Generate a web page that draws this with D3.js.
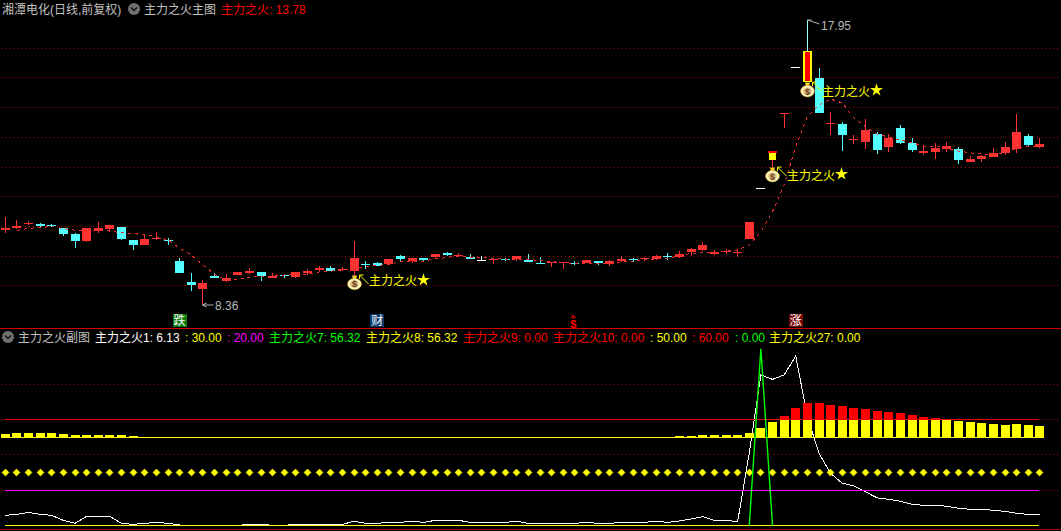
<!DOCTYPE html>
<html><head><meta charset="utf-8">
<script src="https://cdn.jsdelivr.net/npm/d3@7/dist/d3.min.js"></script>
<style>
html,body{margin:0;padding:0;background:#000;overflow:hidden}
svg{display:block;font-family:"Liberation Sans","Noto Sans CJK SC",sans-serif;font-size:12px}
</style></head><body><div id="chart"></div>
<script>
const opens=[10.88,10.95,11.09,11.09,11.05,10.95,10.75,10.51,10.85,10.92,10.985,10.55,10.38,10.58,10.55,9.84,9.13,8.90,9.32,9.17,9.37,9.44,9.47,9.27,9.37,9.30,9.44,9.54,9.60,9.54,
9.50,9.74,9.77,9.74,10.01,9.84,9.94,9.975,10.11,10.01,9.975,9.875,9.90,9.91,9.91,9.875,9.77,9.785,9.785,9.785,9.77,9.84,9.74,9.84,9.91,9.91,9.91,10.01,9.975,10.14,
10.21,10.08,10.14,10.13,10.58,12.29,13.24,14.81,16.36,15.86,16.00,14.47,14.45,13.91,13.84,14.11,13.68,14.32,13.81,13.47,13.51,13.61,13.61,13.17,13.27,13.34,13.47,13.61,14.05,13.68];
const closes=[10.96,11.02,11.13,11.02,11.04,10.75,10.52,10.95,10.95,11.05,10.58,10.38,10.58,10.61,10.52,9.44,9.03,9.10,9.27,9.27,9.47,9.50,9.335,9.335,9.335,9.47,9.50,9.60,9.50,9.57,
9.94,9.72,9.67,9.91,9.91,9.94,9.875,10.08,10.04,10.04,9.91,9.875,9.91,9.90,10.01,9.82,9.75,9.81,9.80,9.76,9.875,9.77,9.84,9.91,9.875,9.93,10.01,9.99,10.08,10.245,
10.38,10.14,10.19,10.14,11.15,12.29,13.51,14.83,16.36,16.90,14.82,14.50,14.08,13.95,14.25,13.58,13.98,13.81,13.58,13.54,13.64,13.71,13.24,13.27,13.37,13.47,13.68,14.18,13.74,13.78];
const highs=[11.31,11.22,11.20,11.12,11.09,10.95,10.77,10.95,11.14,11.05,10.985,10.55,10.72,10.82,10.61,9.94,9.44,9.20,9.44,9.40,9.47,9.60,9.47,9.44,9.40,9.47,9.57,9.67,9.67,9.64,
10.51,9.84,9.81,9.91,10.04,9.94,9.94,10.08,10.14,10.11,10.08,10.01,9.94,9.94,10.01,10.08,9.975,9.81,9.81,9.84,9.875,9.84,9.875,10.01,9.94,9.975,10.04,10.11,10.18,10.28,
10.48,10.21,10.24,10.24,11.15,12.29,13.51,14.83,16.36,17.95,16.33,14.85,14.52,14.08,14.62,14.18,14.11,14.42,13.98,13.71,13.81,13.84,13.68,13.37,13.41,13.64,13.84,14.79,14.11,13.98];
const lows=[10.77,10.91,11.05,11.00,10.985,10.68,10.29,10.49,10.78,10.83,10.55,10.21,10.38,10.55,10.37,9.44,8.83,8.36,9.27,9.13,9.37,9.40,9.17,9.27,9.27,9.28,9.37,9.50,9.50,9.50,
9.37,9.57,9.67,9.71,9.81,9.77,9.81,9.94,10.01,9.99,9.91,9.84,9.74,9.84,9.84,9.82,9.74,9.65,9.57,9.71,9.76,9.71,9.67,9.81,9.82,9.84,9.875,9.875,9.94,10.01,
10.18,10.04,10.08,9.96,10.58,12.29,13.00,14.33,16.36,15.86,14.82,14.08,13.55,13.78,13.61,13.44,13.51,13.78,13.51,13.41,13.27,13.51,13.10,13.17,13.17,13.34,13.41,13.47,13.68,13.64];
const maLine=[null,10.87,10.94,10.97,11.00,10.93,10.88,10.87,10.86,10.85,10.79,10.76,10.73,10.65,10.55,10.27,10.04,9.71,9.40,9.20,9.21,9.30,9.335,9.335,9.37,9.37,9.40,9.47,9.50,9.54,
9.59,9.65,9.69,9.73,9.81,9.81,9.84,9.91,9.96,10.01,9.96,9.975,9.93,9.90,9.90,9.90,9.85,9.82,9.785,9.76,9.76,9.76,9.76,9.81,9.84,9.875,9.90,9.94,10.01,10.10,
10.12,10.12,10.19,10.21,10.38,10.82,11.50,12.40,13.69,14.70,15.09,15.29,15.16,14.65,14.36,14.11,14.01,13.91,13.82,13.71,13.71,13.64,13.54,13.48,13.44,13.42,13.47,13.64,13.69,13.71];
const whiteLine=[5.75,6.32,7.45,6.32,5.75,2.92,1.22,5.18,5.18,5.18,1.22,0.66,1.22,1.79,1.22,0.28,0.09,0.09,0.09,0.09,0.09,0.66,0.66,0.09,0.09,0.66,0.66,0.66,0.66,0.66,
2.36,1.22,1.22,1.79,1.79,2.36,1.79,2.92,2.92,2.92,1.79,1.79,1.79,1.79,2.36,1.22,1.22,1.22,1.22,1.22,1.79,1.22,1.22,1.79,1.79,1.79,2.36,1.79,2.55,3.68,
4.98,2.92,2.92,2.15,40.9,85.2,82.7,85.2,95.9,61.6,40.9,29.5,23.9,22.5,19.1,15.6,14.8,13.7,12.0,11.4,11.4,10.9,9.7,9.2,9.2,8.6,8.0,6.9,6.3,6.13];
const barValues=[51.8,52.4,52.4,52.4,52.4,51.8,51.2,51.2,51.2,51.2,51.2,50.65,null,null,null,null,null,null,null,null,null,null,null,null,null,null,null,null,null,null,
null,null,null,null,null,null,null,null,null,null,null,null,null,null,null,null,null,null,null,null,null,null,null,null,null,null,null,null,50.65,50.6,
51.2,51.2,51.2,51.2,52.3,55.2,58.6,62.0,66.5,69.3,69.3,68.2,67.6,66.5,65.9,64.8,64.2,63.7,62.5,61.4,60.8,59.7,59.1,58.6,58.0,57.4,56.9,57.4,56.9,56.32];
const greenIdx=[64,65,66];
const greenValues=[0,100,0];
const mainGrid=[9,10,11,12,13,14,15,16,17];
const subGrid=[20,40,60,80];
const stockTitle="湘潭电化(日线,前复权)";
const mainName="主力之火主图";
const mainLabel="主力之火: 13.78";
const subName="主力之火副图";
const subLabels=[["主力之火1: 6.13","#fff",95],[": 30.00","#ff0",185],[": 20.00","#f0f",227],["主力之火7: 56.32","#0f0",269],["主力之火8: 56.32","#ff0",366],["主力之火9: 0.00","#f00",463],["主力之火10: 0.00","#f00",553],[": 50.00","#ff0",650],[": 60.00","#f00",692],[": 0.00","#0f0",735],["主力之火27: 0.00","#ff0",769]];
const bagIdx=[30,66,69];
const bagText="主力之火";
const events=[[15,"跌","#0a7a0a"],[32,"财","#0a3a6e"],[68,"涨","#7a0a0a"]];
const dollarIdx=49;
const hiIdx=69, loIdx=17;
const W=1061,H=531,N=opens.length;
const RED="#ff3232",CY="#54ffff";

const x=d3.scalePoint().domain(d3.range(N)).range([5.25,1039.875]);
const xp=i=>Math.floor(x(i)+0.001);
const yM=d3.scaleLinear().domain([8.36,17.95]).range([305,20]);
const yS=d3.scaleLinear().domain([0,100]).range([525.5,348.8]);
const crisp=v=>Math.floor(v)+0.5;

const svg=d3.select("#chart").append("svg").attr("width",W).attr("height",H);
svg.append("rect").attr("width",W).attr("height",H).attr("fill","#000");

// grids
const grid=svg.append("g").attr("shape-rendering","crispEdges").attr("stroke","#b00000").attr("stroke-dasharray","1 3");
grid.selectAll(".m").data(mainGrid).join("line").attr("x1",1).attr("x2",W).attr("y1",d=>crisp(yM(d))).attr("y2",d=>crisp(yM(d)));
grid.selectAll(".s").data(subGrid).join("line").attr("x1",1).attr("x2",W).attr("y1",d=>crisp(yS(d))).attr("y2",d=>crisp(yS(d)));

// panel borders
const sep=svg.append("g").attr("shape-rendering","crispEdges");
sep.append("line").attr("x1",0).attr("x2",W).attr("y1",328.5).attr("y2",328.5).attr("stroke","#d00000");
sep.append("line").attr("x1",0).attr("x2",W).attr("y1",529.5).attr("y2",529.5).attr("stroke","#b00000");

// candles
const colorOf=i=>closes[i]>opens[i]?RED:closes[i]<opens[i]?CY:"#fff";
const c=svg.append("g").attr("shape-rendering","crispEdges");
const idx=d3.range(N);
c.selectAll(".w").data(idx.filter(i=>highs[i]>lows[i])).join("line")
  .attr("x1",i=>xp(i)+.5).attr("x2",i=>xp(i)+.5)
  .attr("y1",i=>Math.round(yM(highs[i]))).attr("y2",i=>Math.round(yM(lows[i])))
  .attr("stroke",i=>i===hiIdx?"#8fffff":colorOf(i));
c.selectAll(".b").data(idx.filter(i=>i!==66&&i!==69)).join("rect")
  .attr("x",i=>xp(i)-4).attr("width",9)
  .attr("y",i=>Math.round(yM(Math.max(opens[i],closes[i]))))
  .attr("height",i=>Math.max(1,Math.round(yM(Math.min(opens[i],closes[i])))-Math.round(yM(Math.max(opens[i],closes[i])))))
  .attr("fill",colorOf);
// limit-up candles
c.append("line").attr("x1",xp(66)+.5).attr("x2",xp(66)+.5).attr("y1",yM(opens[66])).attr("y2",yM(lows[66])).attr("stroke",RED);
c.append("rect").attr("x",xp(66)-3).attr("width",7).attr("y",yM(closes[66])).attr("height",yM(opens[66])-yM(closes[66])).attr("fill","#ff0");
c.append("rect").attr("x",xp(66)-4).attr("width",9).attr("y",yM(closes[66])-1).attr("height",2).attr("fill","#f00");
c.append("rect").attr("x",xp(69)-4).attr("width",9).attr("y",Math.round(yM(closes[69]))).attr("height",Math.round(yM(opens[69])-yM(closes[69]))).attr("fill","#ff0");
c.append("rect").attr("x",xp(69)-2).attr("width",5).attr("y",Math.round(yM(closes[69]))+1).attr("height",Math.round(yM(opens[69])-yM(closes[69]))-2).attr("fill","#f00");

// MA
svg.append("path").attr("fill","none").attr("stroke","#f03030").attr("stroke-width",1)
  .attr("stroke-dasharray","3 4").attr("shape-rendering","crispEdges")
  .attr("d",d3.line().defined(i=>maLine[i]!=null).x(i=>x(i)).y(i=>yM(maLine[i]))(idx));

// Bags and signal text
function bag(i){
  const bx=xp(i)+.5,by=yM(lows[i])+8;
  const g=svg.append("g").attr("transform",`translate(${bx},${by})`);
  g.append("path").attr("d","M-2.5,-7.5 L2.5,-7.5 L1.5,-4 L-1.5,-4 Z").attr("fill","#ffd21f");
  g.append("ellipse").attr("rx",7).attr("ry",5.8).attr("cy",1).attr("fill","#fff6b8").attr("stroke","#c89a20").attr("stroke-width",.5);
  g.append("ellipse").attr("rx",4.2).attr("ry",3.7).attr("cy",1).attr("fill","#d9bc84");
  g.append("text").attr("text-anchor","middle").attr("y",4.5).attr("font-size",9).attr("font-weight","bold").attr("fill","#6a3a12").text("$");
}
function signal(i,k){
  const bx=xp(i)+.5,by=yM(lows[i])+8;
  const dy=[0,2,3][k];
  const g=svg.append("g").attr("transform",`translate(${bx},${by})`).attr("fill","#ff0");
  g.append("path").attr("d","M5,-8 L14,1 M5,-8 L5,-4 M5,-8 L9,-8").attr("fill","none").attr("stroke","#ff0");
  g.append("text").attr("x",14.5).attr("y",2.5+dy).text(bagText);
  g.append("path").attr("transform",`translate(69,${-3+dy})`).attr("d",d3.symbol(d3.symbolStar,52)());
}
bagIdx.forEach(bag);
bagIdx.forEach(signal);

// High / low notes
const hx=xp(hiIdx)+.5,hy=yM(highs[hiIdx]);
svg.append("path").attr("d",`M${hx},${hy} L${hx+12},${hy+4} M${hx},${hy} L${hx+4},${hy}`).attr("stroke","#b0b0b0").attr("fill","none");
svg.append("text").attr("x",hx+13.5).attr("y",hy+10).attr("fill","#b8b8b8").text(highs[hiIdx].toFixed(2));
const lx=xp(loIdx)+.5,ly=yM(lows[loIdx]);
svg.append("path").attr("d",`M${lx},${ly} L${lx+11},${ly} M${lx},${ly} L${lx+4},${ly-2} M${lx},${ly} L${lx+4},${ly+2}`).attr("stroke","#b0b0b0").attr("fill","none");
svg.append("text").attr("x",lx+12.5).attr("y",ly+5).attr("fill","#b8b8b8").text(lows[loIdx].toFixed(2));

// Events
const ev=svg.append("g");
events.forEach(([i,t,col])=>{
  const ex=x(i);
  ev.append("rect").attr("x",Math.round(ex)-7).attr("y",314).attr("width",14).attr("height",13).attr("fill",col);
  ev.append("text").attr("x",ex).attr("y",325).attr("text-anchor","middle").attr("fill","#fff").text(t);
});
ev.append("path").attr("d",`M${x(dollarIdx)-1.5},319 L${x(dollarIdx)-1.5},315 M${x(dollarIdx)-4},318 L${x(dollarIdx)-1.5},315 L${x(dollarIdx)+1},318`).attr("stroke","#f00").attr("fill","none");
ev.append("text").attr("x",x(dollarIdx)-1.5).attr("y",328).attr("text-anchor","middle").attr("fill","#f00").attr("font-size",11).attr("font-weight","bold").text("$");

// Subpanel
const line=d3.line().x(i=>x(i)).y(i=>yS(whiteLine[i]));
svg.append("path").attr("fill","none").attr("stroke","#fff").attr("stroke-width",1).attr("shape-rendering","crispEdges").attr("d",line(idx));

const s=svg.append("g").attr("shape-rendering","crispEdges");
const barIdx=idx.filter(i=>barValues[i]!=null);
s.selectAll(".y").data(barIdx).join("rect").attr("x",i=>xp(i)-4).attr("width",9)
  .attr("y",i=>Math.round(yS(Math.min(barValues[i],60)))).attr("height",i=>Math.round(yS(50))-Math.round(yS(Math.min(barValues[i],60)))).attr("fill","#ff0");
s.selectAll(".r").data(barIdx.filter(i=>barValues[i]>60)).join("rect").attr("x",i=>xp(i)-4).attr("width",9)
  .attr("y",i=>Math.round(yS(barValues[i]))).attr("height",i=>Math.round(yS(60))-Math.round(yS(barValues[i]))).attr("fill","#f00");

const hline=(v,x1,x2,col)=>s.append("line").attr("x1",x1).attr("x2",x2).attr("y1",crisp(yS(v))).attr("y2",crisp(yS(v))).attr("stroke",col);
hline(60,5,1039,"#f00000");
hline(50,1,1044,"#ff0");
hline(20,5,1039,"#f0f");
hline(0,5,1039,"#ff0");

const dot=d3.symbol(d3.symbolSquare,24)();
svg.append("g").selectAll("path").data(idx).join("path").attr("d",dot)
  .attr("transform",i=>`translate(${xp(i)+.5},${crisp(yS(30))}) rotate(45)`)
  .attr("stroke","#ff0").attr("stroke-width",.6).attr("stroke-linejoin","round").attr("fill","#ff0");

svg.append("path").attr("fill","none").attr("stroke","#00ff00").attr("stroke-width",1.4)
  .attr("d",d3.line().x((d,k)=>x(greenIdx[k])).y(d=>yS(d))(greenValues));

// Text headers
function icon(cx,cy){
  svg.append("circle").attr("cx",cx).attr("cy",cy).attr("r",6).attr("fill","#707070");
  svg.append("path").attr("d",`M${cx-3},${cy-1.5} L${cx},${cy+1.5} L${cx+3},${cy-1.5}`).attr("fill","none").attr("stroke","#111").attr("stroke-width",1.4);
}
const txt=(t,px,py,col)=>svg.append("text").attr("x",px).attr("y",py).attr("fill",col).text(t);
txt(stockTitle,2,14,"#c0c0c0");
icon(134,9);
txt(mainName,144,14,"#c0c0c0");
txt(mainLabel,221,14,"#ff0000");
icon(8,337);
txt(subName,18,342,"#c0c0c0");
subLabels.forEach(([t,col,px])=>txt(t,px,342,col));
</script></body></html>
